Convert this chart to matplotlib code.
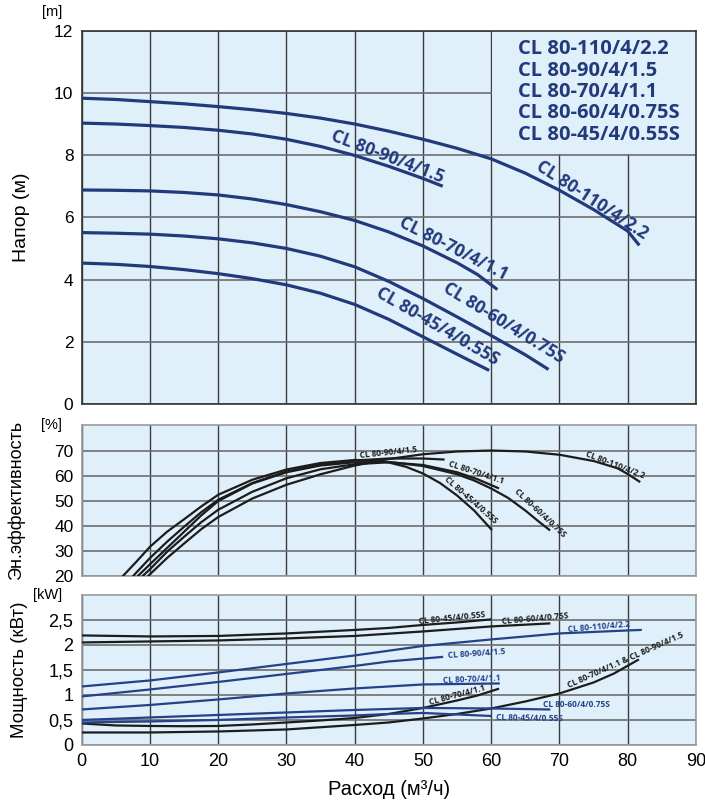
import matplotlib
matplotlib.use("Agg")
import matplotlib.pyplot as plt
from matplotlib.patches import Rectangle

models = ["CL 80-110/4/2.2", "CL 80-90/4/1.5", "CL 80-70/4/1.1",
          "CL 80-60/4/0.75S", "CL 80-45/4/0.55S"]

# head curves, Q [m3/h] -> H [m]
q_h110 = [0, 5, 10, 15, 20, 25, 30, 35, 40, 45, 50, 55, 60, 65, 70, 75, 80, 81.7]
h_110 = [9.83, 9.79, 9.72, 9.65, 9.56, 9.46, 9.34, 9.19, 9.0, 8.77, 8.51, 8.22, 7.88,
         7.42, 6.87, 6.25, 5.56, 5.1]
q_h90 = [0, 5, 10, 15, 20, 25, 30, 35, 40, 45, 50, 52.9]
h_90 = [9.03, 9.0, 8.95, 8.89, 8.8, 8.68, 8.51, 8.28, 7.99, 7.64, 7.25, 7.0]
q_h70 = [0, 5, 10, 15, 20, 25, 30, 35, 40, 45, 50, 55, 58, 60.9]
h_70 = [6.88, 6.87, 6.85, 6.8, 6.72, 6.59, 6.41, 6.18, 5.9, 5.53, 5.08, 4.54, 4.16, 3.68]
q_h60 = [0, 5, 10, 15, 20, 25, 30, 35, 40, 45, 50, 55, 60, 65, 68.4]
h_60 = [5.51, 5.49, 5.46, 5.4, 5.31, 5.18, 5.0, 4.75, 4.41, 3.94, 3.39, 2.8, 2.2, 1.58, 1.11]
q_h45 = [0, 5, 10, 15, 20, 25, 30, 35, 40, 45, 50, 55, 59.7]
h_45 = [4.53, 4.49, 4.42, 4.32, 4.19, 4.03, 3.83, 3.56, 3.2, 2.72, 2.16, 1.6, 1.08]

# efficiency curves, Q -> eta [%]
q_e110 = [9.8, 12.5, 15, 17.5, 20, 25, 30, 35, 40, 45, 50, 55, 60, 65, 70, 75, 78.5, 80, 81.7]
e_110 = [20, 27, 32.8, 38.5, 43.4, 50.8, 56.3, 60.5, 64, 66.6, 68.5, 69.6, 70, 69.6,
         68.3, 65.8, 62.9, 60.6, 57.6]
q_e90 = [7.6, 10, 12.5, 15, 17.5, 20, 25, 30, 35, 40, 45, 50, 53]
e_90 = [20, 27, 33.5, 39.5, 45.3, 50.3, 57, 61.6, 64.5, 66, 66.8, 66.8, 66.4]
q_e70 = [9.0, 10, 12.5, 15, 17.5, 20, 25, 30, 35, 40, 45, 50, 55, 58, 61]
e_70 = [20, 22.5, 29.5, 35.5, 41.3, 46.3, 53.5, 58.9, 62.5, 64.5, 65.3, 64.2, 61.3, 58.5, 55]
q_e60 = [8.3, 10, 12.5, 15, 17.5, 20, 25, 30, 35, 40, 45, 50, 55, 57.5, 60, 62.5, 65, 67, 68.5]
e_60 = [20, 24.5, 31, 37.5, 44, 49.8, 56.8, 61.3, 64, 65.3, 65.4, 63.8, 60.5, 58, 54.8,
        51, 46, 41.5, 38.3]
q_e45 = [6.1, 8, 10, 12.5, 15, 17.5, 20, 25, 30, 35, 40, 42.5, 45, 47.5, 50, 52.5, 55, 57.5, 60]
e_45 = [20, 25.5, 31.5, 37.5, 42.5, 47.6, 52.3, 58.3, 62.4, 65, 66.2, 66.1, 65.2, 63.5,
        60.8, 57, 52, 46, 38.5]

# power curves, Q -> P [kW]  (black and blue families as printed)
q_p45k = [0, 10, 20, 30, 40, 45, 50, 55, 59.9]
p_45k = [2.19, 2.17, 2.18, 2.23, 2.30, 2.34, 2.40, 2.45, 2.51]
q_p60k = [0, 10, 20, 30, 40, 50, 60, 68.5]
p_60k = [2.05, 2.07, 2.09, 2.13, 2.18, 2.27, 2.37, 2.43]
q_p110 = [0, 10, 20, 30, 40, 50, 60, 70, 80, 81.9]
p_110 = [1.17, 1.29, 1.45, 1.62, 1.79, 1.98, 2.11, 2.23, 2.29, 2.30]
q_p90 = [0, 10, 20, 30, 40, 45, 52.8]
p_90 = [0.97, 1.11, 1.26, 1.42, 1.58, 1.67, 1.76]
q_p70 = [0, 10, 20, 30, 40, 50, 61.1]
p_70 = [0.71, 0.80, 0.91, 1.03, 1.13, 1.21, 1.23]
q_p60 = [0, 10, 20, 30, 40, 50, 60, 68.5]
p_60 = [0.50, 0.55, 0.60, 0.65, 0.70, 0.74, 0.73, 0.71]
q_p45 = [0, 10, 20, 30, 40, 45, 50, 55, 59.9]
p_45 = [0.45, 0.47, 0.50, 0.55, 0.59, 0.62, 0.64, 0.61, 0.58]
q_p70k = [0, 5, 10, 15, 20, 25, 30, 35, 40, 45, 50, 55, 58, 61]
p_70k = [0.43, 0.39, 0.38, 0.375, 0.38, 0.41, 0.45, 0.49, 0.54, 0.62, 0.74, 0.89, 0.99, 1.12]
q_pbig = [0, 10, 20, 30, 40, 45, 50, 55, 60, 65, 70, 75, 78, 81.5]
p_big = [0.25, 0.25, 0.27, 0.31, 0.40, 0.45, 0.53, 0.62, 0.73, 0.87, 1.03, 1.25, 1.43, 1.7]

x_ticks = [0, 10, 20, 30, 40, 50, 60, 70, 80, 90]
h_ticks = [0, 2, 4, 6, 8, 10, 12]
e_ticks = [20, 30, 40, 50, 60, 70]
p_ticks = [0, 0.5, 1, 1.5, 2, 2.5]
p_ticklabels = ["0", "0,5", "1", "1,5", "2", "2,5"]

BG = "#dff0fa"
NAVY = "#22397c"
BLUE = "#24418a"
BLACK = "#1c1c1c"
SANS = ["Liberation Sans", "DejaVu Sans"]
LBL = ["Open Sans", "DejaVu Sans"]

fig = plt.figure(figsize=(7.05, 8.08), dpi=100)
ax1 = fig.add_axes([0.1159, 0.5, 0.8713, 0.462])
ax2 = fig.add_axes([0.1159, 0.2877, 0.8713, 0.1857])
ax3 = fig.add_axes([0.1159, 0.078, 0.8713, 0.1857])


def style(ax, ylim, yticks, frame):
    ax.set_facecolor(BG)
    ax.set_xlim(0, 90)
    ax.set_ylim(*ylim)
    ax.set_xticks(x_ticks)
    ax.set_yticks(yticks)
    ax.set_axisbelow(True)
    ax.grid(axis="x", color="#3c3c3c", lw=1.0)
    ax.grid(axis="y", color="#6e6e6e", lw=1.2)
    ax.tick_params(length=0, pad=6)
    for s in ax.spines.values():
        s.set_color(frame)
        s.set_linewidth(1.2)


# ---- head
style(ax1, (0, 12), h_ticks, "#333333")
ax1.add_patch(Rectangle((60.15, 8.05), 29.85, 3.95, fc=BG, ec="none", zorder=1))
for q, h in [(q_h110, h_110), (q_h90, h_90), (q_h70, h_70), (q_h60, h_60), (q_h45, h_45)]:
    ax1.plot(q, h, color=NAVY, lw=2.3, solid_capstyle="butt", solid_joinstyle="round", zorder=3)
ax1.set_xticklabels([])
for lab in ax1.get_yticklabels():
    lab.set_family(SANS)
    lab.set_fontsize(12.5)
ax1.set_ylabel("Напор (м)", family=SANS, fontsize=14, labelpad=17)
ax1.text(-2.9, 12.6, "[m]", family=SANS, fontsize=10.5, ha="right", va="center")

for i, m in enumerate(models):
    ax1.text(63.9, 11.41 - i * 0.69, m, color=NAVY, family=LBL, fontsize=14.5,
             fontweight="bold", ha="left", va="center")

head_lbl = [(44.8, 7.94, -21), (74.7, 6.56, -33), (54.5, 4.98, -27),
            (61.8, 2.60, -31.5), (52.2, 2.48, -30)]
for m, (x, y, r) in zip([models[1], models[0], models[2], models[3], models[4]], head_lbl):
    ax1.text(x, y, m, color=NAVY, family=LBL, fontsize=12.5, fontweight="bold",
             rotation=r, rotation_mode="anchor", ha="center", va="center")

# ---- efficiency
style(ax2, (20, 80), e_ticks, "#9a9a9a")
for q, e in [(q_e110, e_110), (q_e90, e_90), (q_e70, e_70), (q_e60, e_60), (q_e45, e_45)]:
    ax2.plot(q, e, color=BLACK, lw=1.6, solid_joinstyle="round", zorder=3)
ax2.set_xticklabels([])
for lab in ax2.get_yticklabels():
    lab.set_family(SANS)
    lab.set_fontsize(12.5)
ax2.set_ylabel("Эн.эффективность", family=SANS, fontsize=13, labelpad=21)
ax2.text(-2.9, 80, "[%]", family=SANS, fontsize=10.5, ha="right", va="center")

eff_lbl = [(models[1], 44.9, 69.3, 6), (models[0], 78.1, 64.3, -21),
           (models[2], 57.8, 61.0, -18), (models[3], 67.1, 45.1, -43),
           (models[4], 57.0, 50.0, -41)]
for m, x, y, r in eff_lbl:
    ax2.text(x, y, m, color=BLACK, family=LBL, fontsize=6, fontweight="bold",
             rotation=r, rotation_mode="anchor", ha="center", va="center")

# ---- power
style(ax3, (0, 3), p_ticks, "#9a9a9a")
for q, p in [(q_p45k, p_45k), (q_p60k, p_60k), (q_p70k, p_70k), (q_pbig, p_big)]:
    ax3.plot(q, p, color=BLACK, lw=1.6, solid_joinstyle="round", zorder=3)
for q, p in [(q_p110, p_110), (q_p90, p_90), (q_p70, p_70), (q_p60, p_60), (q_p45, p_45)]:
    ax3.plot(q, p, color=BLUE, lw=1.6, solid_joinstyle="round", zorder=3)
ax3.set_yticklabels(p_ticklabels)
for lab in ax3.get_yticklabels() + ax3.get_xticklabels():
    lab.set_family(SANS)
    lab.set_fontsize(13)
ax3.set_ylabel("Мощность (кВт)", family=SANS, fontsize=13.5, labelpad=15)
ax3.set_xlabel("Расход (м³/ч)", family=SANS, fontsize=14.5, labelpad=7)
ax3.text(-2.9, 3.0, "[kW]", family=SANS, fontsize=10.5, ha="right", va="center")

pow_lbl = [(models[4], 54.2, 2.53, 6, BLACK), (models[3], 66.4, 2.52, 5, BLACK),
           (models[0], 75.8, 2.36, 5, BLUE), (models[1], 57.8, 1.82, 4, BLUE),
           (models[2], 57.1, 1.32, 2.5, BLUE), (models[2], 55.0, 1.00, 15, BLACK),
           (models[3], 72.5, 0.80, 0, BLUE), (models[4], 65.6, 0.54, -1, BLUE),
           (models[2] + " & " + models[1], 79.7, 1.70, 24, BLACK)]
for m, x, y, r, c in pow_lbl:
    ax3.text(x, y, m, color=c, family=LBL, fontsize=6, fontweight="bold",
             rotation=r, rotation_mode="anchor", ha="center", va="center")

fig.savefig("out.png", dpi=100)
